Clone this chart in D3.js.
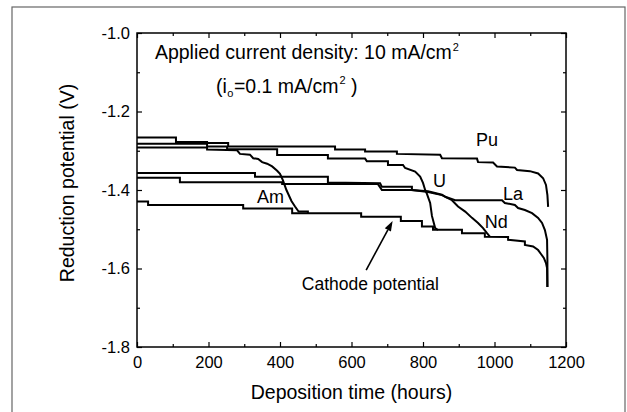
<!DOCTYPE html>
<html>
<head>
<meta charset="utf-8">
<script src="https://cdn.jsdelivr.net/npm/d3@7"></script>
<style>
  html, body { margin: 0; padding: 0; background: #fff; }
  svg { display: block; font-family: "Liberation Sans", Arial, sans-serif; }
</style>
</head>
<body>
<svg id="chart" width="627" height="412"></svg>
<script>
// ---------------- data (time in hours, potential in V) ----------------
const xMajorTicks = [0, 200, 400, 600, 800, 1000, 1200];
const xMinorTicks = [100, 300, 500, 700, 900, 1100];
const yMajorTicks = [-1.8, -1.6, -1.4, -1.2, -1.0];
const yMinorTicks = [-1.7, -1.5, -1.3, -1.1];

const puSeries = [[0,-1.266],[109,-1.266],[109,-1.278],[196,-1.278],[196,-1.280],[255,-1.280],[255,-1.289],[554,-1.289],[554,-1.297],[638,-1.297],[638,-1.302],[727,-1.302],[727,-1.308],[848,-1.310],[853,-1.319],[951,-1.320],[954,-1.329],[996,-1.330],[1007,-1.340],[1057,-1.343],[1063,-1.349],[1099,-1.352],[1122,-1.358],[1136,-1.370],[1144,-1.387],[1148,-1.413],[1150,-1.443]];

const uSeries = [[0,-1.282],[196,-1.282],[196,-1.289],[252,-1.289],[252,-1.296],[392,-1.296],[392,-1.311],[534,-1.311],[534,-1.320],[638,-1.320],[643,-1.327],[702,-1.327],[702,-1.336],[744,-1.336],[750,-1.344],[778,-1.353],[792,-1.366],[800,-1.382],[806,-1.400],[811,-1.410],[820,-1.433],[825,-1.466],[834,-1.497],[842,-1.502]];

const amSeries = [[0,-1.292],[196,-1.292],[196,-1.297],[280,-1.299],[288,-1.308],[316,-1.310],[325,-1.319],[339,-1.321],[350,-1.329],[364,-1.333],[378,-1.340],[392,-1.351],[400,-1.359],[408,-1.375],[418,-1.400],[432,-1.428],[442,-1.442],[452,-1.455],[478,-1.455],[478,-1.459]];

const laSeries = [[0,-1.357],[330,-1.357],[330,-1.366],[534,-1.366],[534,-1.381],[680,-1.383],[685,-1.392],[769,-1.392],[769,-1.400],[814,-1.403],[853,-1.412],[864,-1.418],[890,-1.426],[1021,-1.426],[1029,-1.433],[1057,-1.438],[1066,-1.446],[1085,-1.451],[1105,-1.459],[1122,-1.471],[1133,-1.484],[1141,-1.502],[1147,-1.527],[1148,-1.578],[1148,-1.647]];

const ndSeries = [[0,-1.369],[120,-1.369],[120,-1.380],[406,-1.380],[406,-1.385],[674,-1.385],[685,-1.400],[769,-1.400],[814,-1.405],[853,-1.413],[864,-1.418],[881,-1.426],[898,-1.442],[918,-1.455],[937,-1.471],[954,-1.484],[968,-1.497],[979,-1.510],[987,-1.519]];

const cathodeSeries = [[0,-1.429],[31,-1.429],[31,-1.438],[297,-1.438],[297,-1.447],[434,-1.447],[434,-1.459],[627,-1.459],[627,-1.468],[738,-1.468],[738,-1.479],[797,-1.479],[797,-1.493],[828,-1.493],[828,-1.501],[909,-1.501],[909,-1.510],[973,-1.510],[973,-1.519],[1038,-1.520],[1038,-1.527],[1085,-1.531],[1085,-1.540],[1108,-1.544],[1122,-1.553],[1130,-1.563],[1138,-1.573],[1144,-1.586],[1147,-1.599],[1148,-1.647]];

const seriesList = [puSeries, uSeries, amSeries, laSeries, ndSeries, cathodeSeries];

// curve labels: [text, time, potential]
const curveLabels = [["Pu", 948, -1.288], ["U", 828, -1.392], ["La", 1024, -1.4255], ["Nd", 973, -1.497], ["Am", 336, -1.432]];
const annotationText = ["Cathode potential", 461, -1.656];
const arrowTail = [641, -1.604];
const arrowTip = [715, -1.479];
const titleLine1 = ["Applied current density: 10 mA/cm", "2"];
const titleLine2 = ["(i", "o", "=0.1 mA/cm", "2", " )"];
const titlePos1 = [50, -1.0675];
const titlePos2 = [221, -1.1516];
const xTitle = "Deposition time (hours)";
const yTitle = "Reduction potential (V)";

// ---------------- drawing ----------------
const svg = d3.select("#chart");
const W = 627, H = 412;
const pL = 137, pR = 566, pT = 33, pB = 347;

svg.append("rect").attr("width", W).attr("height", H).attr("fill", "#fff");
// outer figure frame
svg.append("rect").attr("x", 12).attr("y", 7).attr("width", 613).attr("height", 420)
  .attr("fill", "none").attr("stroke", "#666").attr("stroke-width", 1.2);

const x = d3.scaleLinear().domain([0, 1200]).range([pL, pR]);
const y = d3.scaleLinear().domain([-1.8, -1.0]).range([pB, pT]);

const fmtY = d => d.toFixed(1);

function styleAxis(g) {
  g.select(".domain").remove();
  g.selectAll(".tick line").attr("stroke", "#000").attr("stroke-width", 1.2);
  g.selectAll(".tick text").attr("fill", "#000").attr("font-size", 16.5)
    .attr("font-family", "Liberation Sans, Arial, sans-serif");
}
svg.append("g").attr("transform", `translate(0,${pB})`)
  .call(d3.axisBottom(x).tickValues(xMajorTicks).tickSizeInner(-5).tickSizeOuter(0).tickPadding(9).tickFormat(d3.format("d")))
  .call(styleAxis);
svg.append("g").attr("transform", `translate(0,${pB})`)
  .call(d3.axisBottom(x).tickValues(xMinorTicks).tickSizeInner(-3).tickSizeOuter(0).tickFormat(""))
  .call(styleAxis);
svg.append("g").attr("transform", `translate(0,${pT})`)
  .call(d3.axisTop(x).tickValues(xMajorTicks).tickSizeInner(-5).tickSizeOuter(0).tickFormat(""))
  .call(styleAxis);
svg.append("g").attr("transform", `translate(0,${pT})`)
  .call(d3.axisTop(x).tickValues(xMinorTicks).tickSizeInner(-3).tickSizeOuter(0).tickFormat(""))
  .call(styleAxis);
svg.append("g").attr("transform", `translate(${pL},0)`)
  .call(d3.axisLeft(y).tickValues(yMajorTicks).tickSizeInner(-5).tickSizeOuter(0).tickPadding(7).tickFormat(fmtY))
  .call(styleAxis);
svg.append("g").attr("transform", `translate(${pL},0)`)
  .call(d3.axisLeft(y).tickValues(yMinorTicks).tickSizeInner(-3).tickSizeOuter(0).tickFormat(""))
  .call(styleAxis);
svg.append("g").attr("transform", `translate(${pR},0)`)
  .call(d3.axisRight(y).tickValues(yMajorTicks).tickSizeInner(-5).tickSizeOuter(0).tickFormat(""))
  .call(styleAxis);
svg.append("g").attr("transform", `translate(${pR},0)`)
  .call(d3.axisRight(y).tickValues(yMinorTicks).tickSizeInner(-3).tickSizeOuter(0).tickFormat(""))
  .call(styleAxis);

// plot frame
svg.append("rect").attr("x", pL).attr("y", pT).attr("width", pR - pL).attr("height", pB - pT)
  .attr("fill", "none").attr("stroke", "#000").attr("stroke-width", 1.5);

// curves
const line = d3.line().x(d => x(d[0])).y(d => y(d[1]));
svg.append("g").selectAll("path").data(seriesList).join("path")
  .attr("d", line).attr("fill", "none").attr("stroke", "#000")
  .attr("stroke-width", 2).attr("stroke-linejoin", "miter");

// curve labels
svg.append("g").selectAll("text").data(curveLabels).join("text")
  .attr("x", d => x(d[1])).attr("y", d => y(d[2]))
  .attr("font-size", 18).attr("fill", "#000").text(d => d[0]);

svg.append("text").attr("x", x(annotationText[1])).attr("y", y(annotationText[2]))
  .attr("font-size", 17.5).attr("fill", "#000").text(annotationText[0]);

// arrow
const ax0 = x(arrowTail[0]), ay0 = y(arrowTail[1]), ax1 = x(arrowTip[0]), ay1 = y(arrowTip[1]);
const ang = Math.atan2(ay1 - ay0, ax1 - ax0);
const hl = 10, hw = 3.5;
const bx = ax1 - hl * Math.cos(ang), by = ay1 - hl * Math.sin(ang);
svg.append("line").attr("x1", ax0).attr("y1", ay0).attr("x2", bx).attr("y2", by)
  .attr("stroke", "#000").attr("stroke-width", 1.6);
svg.append("path")
  .attr("d", `M${ax1},${ay1}L${bx + hw * Math.sin(ang)},${by - hw * Math.cos(ang)}L${bx - hw * Math.sin(ang)},${by + hw * Math.cos(ang)}Z`)
  .attr("fill", "#000");

// title lines
const t1 = svg.append("text").attr("x", x(titlePos1[0])).attr("y", y(titlePos1[1]))
  .attr("font-size", 19.5).attr("fill", "#000");
t1.append("tspan").text(titleLine1[0]);
t1.append("tspan").attr("font-size", 11).attr("dy", -8).attr("dx", 1).text(titleLine1[1]);

const t2 = svg.append("text").attr("x", x(titlePos2[0])).attr("y", y(titlePos2[1]))
  .attr("font-size", 19.5).attr("fill", "#000").style("white-space", "pre");
t2.append("tspan").text(titleLine2[0]);
t2.append("tspan").attr("font-size", 11).attr("dy", 4.5).attr("dx", 0.5).text(titleLine2[1]);
t2.append("tspan").attr("dy", -4.5).attr("dx", 0.5).text(titleLine2[2]);
t2.append("tspan").attr("font-size", 11).attr("dy", -9).attr("dx", 1).text(titleLine2[3]);
t2.append("tspan").attr("dy", 9).text(titleLine2[4]);

// axis titles
svg.append("text").attr("x", (pL + pR) / 2).attr("y", 399).attr("text-anchor", "middle")
  .attr("font-size", 19.5).attr("fill", "#000").text(xTitle);
svg.append("text").attr("transform", `translate(73.5,183) rotate(-90)`).attr("text-anchor", "middle")
  .attr("font-size", 19.5).attr("fill", "#000").text(yTitle);
</script>
</body>
</html>
